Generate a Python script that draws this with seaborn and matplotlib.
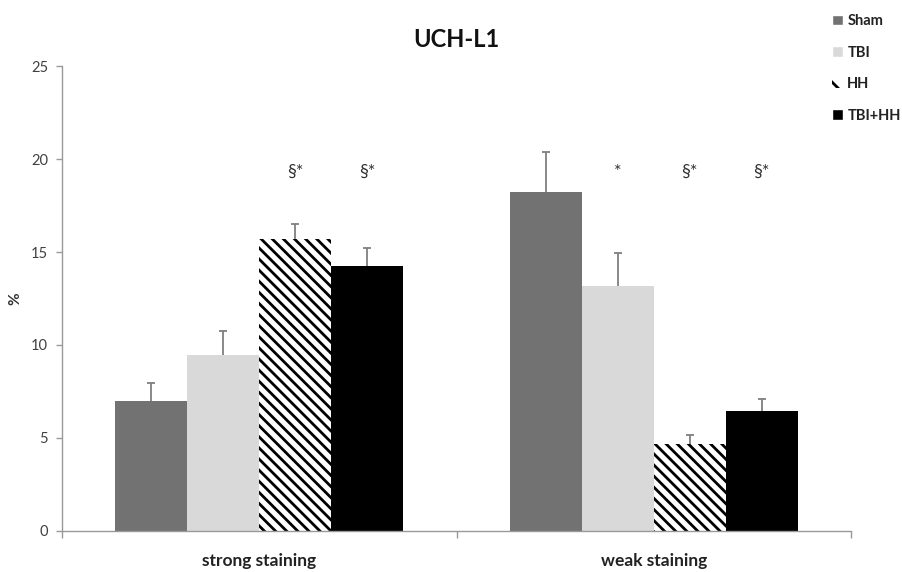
import pandas as pd
import matplotlib
matplotlib.use('Agg')
import matplotlib.pyplot as plt
import matplotlib.patches as mpatches
import seaborn as sns
import numpy as np

# ── DATA ──────────────────────────────────────────────────────
categories = ['strong staining', 'weak staining']
groups = ['Sham', 'TBI', 'HH', 'TBI+HH']
means = {
    'Sham':   [7.0, 18.2],
    'TBI':    [9.45, 13.15],
    'HH':     [15.7, 4.7],
    'TBI+HH': [14.25, 6.45],
}
errs = {
    'Sham':   [0.95, 2.15],
    'TBI':    [1.3, 1.8],
    'HH':     [0.8, 0.45],
    'TBI+HH': [0.95, 0.65],
}
marks = {
    'Sham':   ['', ''],
    'TBI':    ['', '*'],
    'HH':     ['§*', '§*'],
    'TBI+HH': ['§*', '§*'],
}
mark_y = 19.3
colors = {'Sham': '#727272', 'TBI': '#d9d9d9', 'HH': 'white', 'TBI+HH': '#000000'}

rows = []
for g in groups:
    for c, v in zip(categories, means[g]):
        rows.append({'category': c, 'group': g, 'value': v})
df = pd.DataFrame(rows)

# ── PLOT ──────────────────────────────────────────────────────
sns.set_theme(style="white")
plt.rcParams['font.family'] = ['Lato', 'DejaVu Sans']
plt.rcParams['hatch.linewidth'] = 2.0

fig = plt.figure(figsize=(9.03, 5.72), dpi=100)
ax = fig.add_axes([0.0687, 0.0717, 0.8737, 0.8129])

sns.barplot(data=df, x='category', y='value', hue='group', order=categories,
            hue_order=groups, palette=colors, width=0.73, errorbar=None,
            linewidth=0, saturation=1, legend=False, ax=ax)

for g, cont in zip(groups, ax.containers):
    for i, bar in enumerate(cont):
        if g == 'HH':
            bar.set_facecolor('white')
            bar.set_edgecolor('black')
            bar.set_hatch('\\\\\\')
            bar.set_linewidth(0)
        x = bar.get_x() + bar.get_width() / 2
        eb = ax.errorbar(x, means[g][i], yerr=[[0], [errs[g][i]]], fmt='none',
                         ecolor='#7f7f7f', elinewidth=1.3, capsize=3, capthick=1.3,
                         zorder=1)
        # only the upper cap, like the original
        for cap in eb[1]:
            if np.allclose(cap.get_ydata(), means[g][i]):
                cap.set_visible(False)
        if marks[g][i]:
            ax.text(x, mark_y, marks[g][i], ha='center', va='center',
                    fontsize=13, color='#333333')

ax.set_ylim(0, 25)
ax.set_xlim(-0.5, 1.5)
ax.set_yticks([0, 5, 10, 15, 20, 25])
ax.set_xlabel('')
ax.set_ylabel('%', fontsize=11, fontweight='bold', color='#333333')
ax.yaxis.set_label_coords(-0.05, 0.5)
ax.tick_params(axis='y', which='both', left=True, length=4, width=1,
               color='#999999', labelsize=10.5, labelcolor='#404040', pad=6)
ax.tick_params(axis='x', bottom=False, labelsize=12.5, pad=10)
for lbl in ax.get_xticklabels():
    lbl.set_fontweight('bold')
    lbl.set_color('#222222')

# boundary ticks on the category axis
ax.set_xticks([-0.5, 0.5, 1.5], minor=True)
ax.tick_params(axis='x', which='minor', bottom=True, length=5, width=1, color='#999999')

for s in ['top', 'right']:
    ax.spines[s].set_visible(False)
for s in ['left', 'bottom']:
    ax.spines[s].set_color('#999999')
    ax.spines[s].set_linewidth(1)

ax.set_title('UCH-L1', fontsize=17, fontweight='bold', color='#111111', pad=14)

handles = [
    mpatches.Patch(facecolor=colors['Sham'], label='Sham'),
    mpatches.Patch(facecolor=colors['TBI'], label='TBI'),
    mpatches.Patch(facecolor='white', edgecolor='black', hatch='\\\\', linewidth=0, label='HH'),
    mpatches.Patch(facecolor=colors['TBI+HH'], label='TBI+HH'),
]
leg = fig.legend(handles=handles, loc='upper left', bbox_to_anchor=(0.91, 0.993),
                 frameon=False, handlelength=0.75, handleheight=0.75,
                 handletextpad=0.3, labelspacing=1.2, borderaxespad=0.3,
                 prop={'weight': 'bold', 'size': 10.5})
for t in leg.get_texts():
    t.set_color('#222222')

plt.savefig('out.png', dpi=100)
plt.close()
